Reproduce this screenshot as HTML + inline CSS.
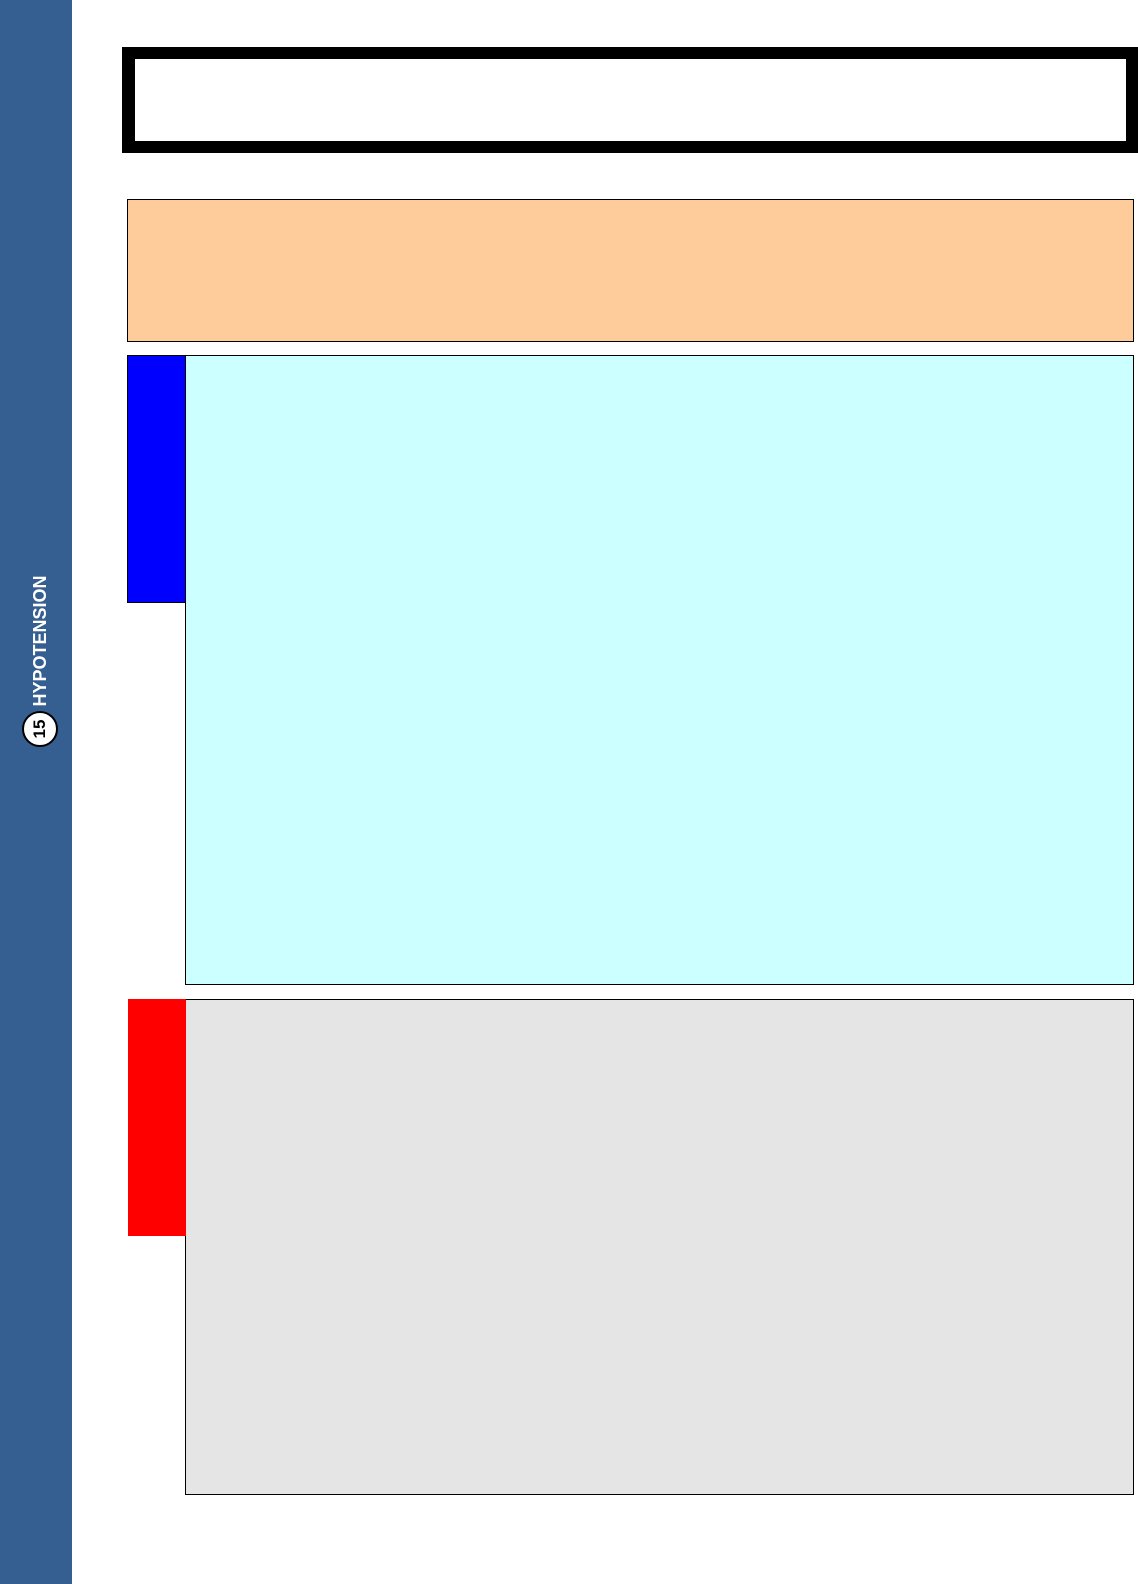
<!DOCTYPE html>
<html><head><meta charset="utf-8"><style>
html,body{margin:0;padding:0;width:1138px;height:1584px;background:#fff;overflow:hidden;font-family:"Liberation Sans",sans-serif}
div{position:absolute;box-sizing:border-box}
</style></head><body>
<div style="left:0;top:0;width:72px;height:1584px;background:#365f91"></div>
<div style="left:40px;top:641px;width:0;height:0">
  <div style="left:-80px;top:-11px;width:160px;height:22px;transform:rotate(-90deg);color:#fff;font-weight:bold;font-size:18px;line-height:22px;text-align:center;white-space:nowrap">HYPOTENSION</div>
</div>
<div style="left:22px;top:711px;width:36px;height:36px;border-radius:50%;background:#fff;border:2px solid #000">
  <div style="left:0;top:0;width:32px;height:32px;transform:rotate(-90deg);font-weight:bold;font-size:17px;line-height:32px;text-align:center">15</div>
</div>
<div style="left:122px;top:47px;width:1016px;height:106px;border:12px solid #000;border-left-width:13px;background:#fff"></div>
<div style="left:127px;top:199px;width:1007px;height:143px;background:#fecb9a;border:1px solid #000"></div>
<div style="left:185px;top:355px;width:949px;height:630px;background:#ccffff;border:1px solid #000"></div>
<div style="left:127px;top:355px;width:59px;height:248px;background:#0000ff;border:1px solid #000"></div>
<div style="left:185px;top:999px;width:949px;height:496px;background:#e5e5e5;border:1px solid #000"></div>
<div style="left:128px;top:999px;width:58px;height:237px;background:#ff0000"></div>
</body></html>
